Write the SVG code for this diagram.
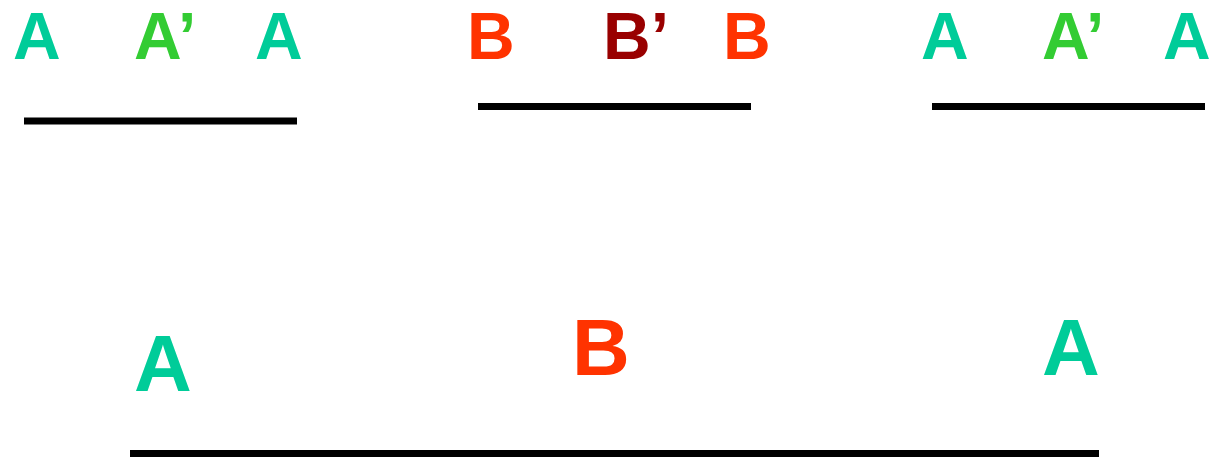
<svg xmlns="http://www.w3.org/2000/svg" width="1215" height="457" viewBox="0 0 1215 457">
<style>
text{font-family:"Liberation Sans",Arial,sans-serif;font-weight:bold}
.s{font-size:66px}
.b{font-size:80px}
.a{fill:#00CC99}
.ap{fill:#33CC33}
.r{fill:#FF3300}
.rp{fill:#990000}
line{stroke:#000;stroke-width:7}
</style>
<rect width="1215" height="457" fill="#fff"/>
<g id="group1">
<text class="s a" x="13" y="59">A</text>
<text class="s ap" x="134" y="59">A’</text>
<text class="s a" x="255" y="59">A</text>
</g>
<g id="group2">
<text class="s r" x="467" y="59">B</text>
<text class="s rp" x="603" y="59">B’</text>
<text class="s r" x="723" y="59">B</text>
</g>
<g id="group3">
<text class="s a" x="921" y="59">A</text>
<text class="s ap" x="1042" y="59">A’</text>
<text class="s a" x="1163" y="59">A</text>
</g>
<g id="bottom">
<text class="b a" x="134" y="391">A</text>
<text class="b r" x="572" y="375">B</text>
<text class="b a" x="1042" y="375">A</text>
</g>
<g id="connectors">
<line x1="24" y1="121" x2="297" y2="121"/>
<line x1="478" y1="106.5" x2="751" y2="106.5"/>
<line x1="932" y1="106.5" x2="1205" y2="106.5"/>
<line x1="130" y1="453.5" x2="1099" y2="453.5"/>
</g>
</svg>
